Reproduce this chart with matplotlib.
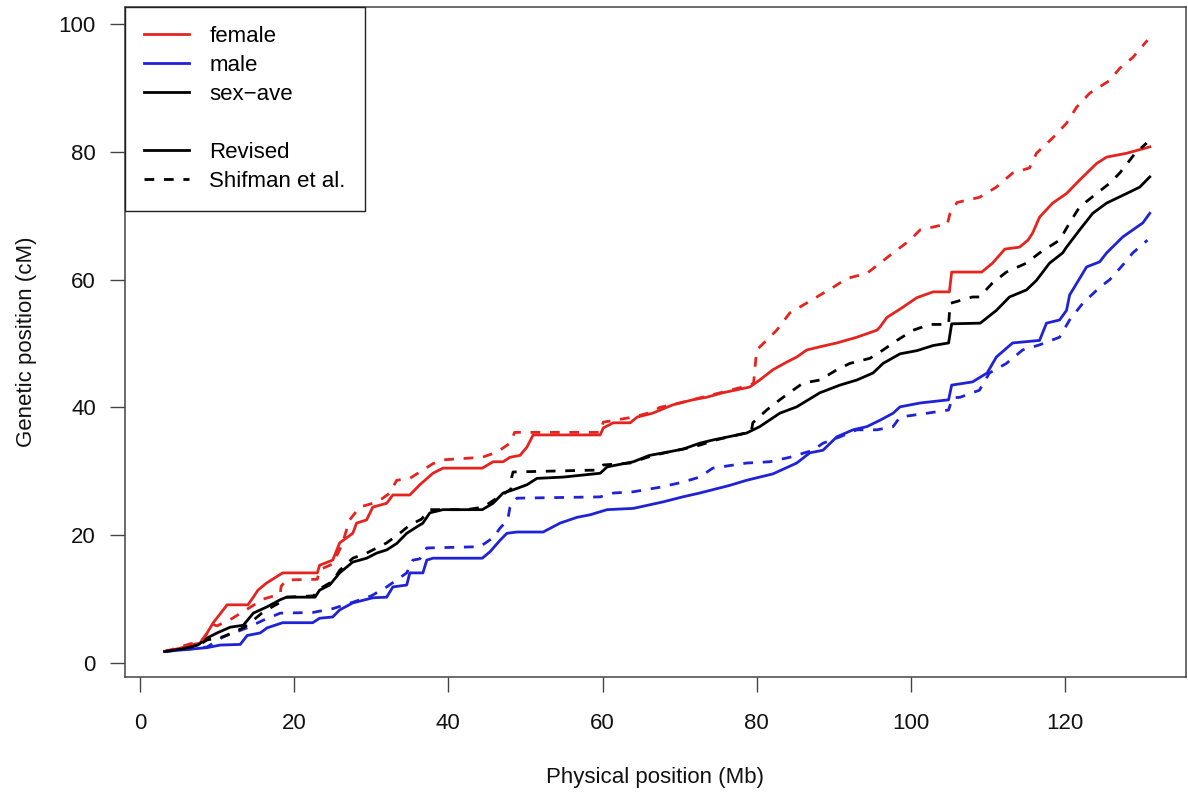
import matplotlib
matplotlib.use("Agg")
import matplotlib.pyplot as plt
from matplotlib.lines import Line2D

plt.rcParams['font.family'] = ['Liberation Sans', 'DejaVu Sans']

# ---------------- data (Mb, cM) ----------------
female_rev_x = [3.2, 5.2, 6.5, 7.8, 8.7, 9.5, 11.3, 14.0, 14.7, 15.3, 16.4, 18.5, 23.0, 23.3, 25.0, 25.9,
                27.6, 28.1, 29.4, 30.2, 32.0, 32.8, 35.0, 36.3, 38.0, 39.3, 44.4, 45.8, 47.1, 48.0, 49.3,
                50.2, 51.0, 59.7, 60.1, 61.4, 63.6, 64.5, 66.5, 69.1, 71.7, 73.5, 75.6, 79.1, 80.4, 82.1,
                83.9, 85.2, 86.5, 88.2, 90.4, 93.0, 95.6, 96.0, 96.9, 98.6, 100.8, 102.9, 105.0, 105.3,
                109.2, 110.6, 112.2, 114.1, 115.2, 115.8, 116.7, 118.4, 120.2, 121.9, 124.1, 125.4, 128.0, 131.0]
female_rev_y = [1.8, 2.3, 2.8, 3.1, 4.7, 6.3, 9.1, 9.1, 10.3, 11.4, 12.5, 14.1, 14.1, 15.3, 16.1, 18.8,
                20.3, 21.9, 22.4, 24.4, 25.0, 26.3, 26.3, 27.9, 29.7, 30.5, 30.5, 31.5, 31.5, 32.2, 32.5,
                33.8, 35.7, 35.7, 36.8, 37.6, 37.6, 38.5, 39.1, 40.4, 41.2, 41.6, 42.3, 43.2, 44.3, 45.9,
                47.1, 47.9, 49.0, 49.5, 50.1, 51.0, 52.1, 52.6, 54.1, 55.4, 57.2, 58.1, 58.1, 61.2,
                61.2, 62.6, 64.8, 65.1, 66.2, 67.3, 69.8, 72.0, 73.5, 75.6, 78.2, 79.2, 79.8, 80.8]

female_shif_x = [3.2, 5.0, 6.5, 7.8, 8.7, 9.5, 10.0, 12.0, 14.0, 16.0, 18.2, 18.3, 19.0, 23.0, 23.3, 25.0,
                 26.0, 26.5, 27.2, 28.5, 30.2, 31.5, 32.4, 33.3, 35.0, 36.7, 38.0, 39.3, 44.4, 46.3, 48.0,
                 48.6, 59.7, 60.1, 64.0, 66.5, 67.4, 70.0, 72.6, 75.6, 79.1, 79.6, 80.0, 81.7, 82.6, 84.3,
                 86.0, 87.8, 89.9, 91.7, 94.3, 96.0, 97.7, 99.9, 101.2, 103.8, 104.7, 105.1, 106.0, 108.9,
                 111.1, 113.2, 115.4, 116.3, 118.4, 120.2, 121.5, 123.2, 125.8, 127.1, 128.8, 130.7]
female_shif_y = [1.8, 2.4, 3.0, 3.2, 4.6, 6.0, 5.8, 7.0, 8.5, 10.0, 10.8, 12.0, 13.0, 13.1, 14.6, 15.5,
                 18.0, 19.7, 22.4, 24.4, 25.0, 25.8, 26.6, 28.6, 28.9, 30.2, 31.2, 31.8, 32.2, 33.0, 34.4,
                 36.1, 36.1, 37.7, 38.5, 39.3, 40.0, 40.7, 41.5, 42.4, 43.5, 43.8, 49.0, 51.0, 52.1, 54.8,
                 56.0, 57.3, 58.8, 60.2, 61.0, 62.6, 64.2, 66.2, 67.8, 68.5, 68.6, 70.4, 72.1, 72.9,
                 74.5, 76.7, 77.5, 79.8, 82.2, 84.5, 87.0, 89.2, 91.2, 93.1, 94.8, 97.5]

male_rev_x = [3.2, 6.0, 8.7, 10.4, 13.0, 13.9, 15.6, 16.5, 18.5, 22.4, 23.3, 25.0, 25.9, 27.6, 30.2, 32.0,
              32.8, 34.6, 35.0, 36.7, 37.2, 38.0, 44.4, 45.4, 46.7, 47.6, 48.9, 52.3, 54.5, 56.7, 58.4,
              60.6, 64.0, 67.8, 70.4, 72.6, 76.5, 78.7, 82.1, 85.2, 86.9, 88.6, 90.4, 92.5, 94.3, 96.0,
              97.7, 98.6, 101.2, 104.9, 105.3, 108.0, 109.9, 111.1, 113.2, 116.7, 117.6, 119.3, 120.2,
              120.6, 122.8, 124.5, 125.4, 127.5, 128.8, 130.1, 131.0]
male_rev_y = [1.8, 2.1, 2.4, 2.8, 2.9, 4.3, 4.7, 5.5, 6.3, 6.3, 7.0, 7.2, 8.3, 9.4, 10.2, 10.3,
              11.9, 12.2, 14.1, 14.1, 16.1, 16.4, 16.4, 17.4, 19.2, 20.3, 20.5, 20.5, 21.9, 22.8, 23.2,
              24.0, 24.2, 25.2, 26.0, 26.6, 27.8, 28.6, 29.6, 31.3, 32.9, 33.3, 35.4, 36.5, 37.0, 38.0,
              39.1, 40.1, 40.7, 41.2, 43.5, 44.0, 45.4, 47.9, 50.1, 50.5, 53.2, 53.7, 55.2,
              57.6, 62.0, 62.8, 64.2, 66.7, 67.8, 68.9, 70.4]

male_shif_x = [3.2, 6.0, 8.7, 10.8, 13.9, 16.0, 18.2, 22.4, 25.0, 27.6, 30.0, 32.0, 34.6, 35.4, 36.3, 37.2,
               44.1, 45.8, 46.7, 47.7, 48.0, 48.9, 59.7, 61.4, 64.0, 67.4, 70.4, 72.6, 74.3, 78.7, 81.7,
               84.3, 87.3, 88.6, 90.8, 93.0, 95.6, 97.7, 98.6, 102.1, 104.9, 105.4, 106.4, 108.9, 110.2,
               112.4, 114.5, 116.7, 119.3, 120.6, 122.3, 124.5, 125.8, 127.5, 128.8, 130.7]
male_shif_y = [1.8, 2.1, 2.5, 4.1, 5.5, 6.7, 7.8, 7.9, 8.5, 9.5, 10.5, 11.9, 14.1, 16.1, 16.3, 18.0,
               18.2, 19.6, 21.1, 22.4, 24.4, 25.8, 26.0, 26.6, 26.8, 27.5, 28.3, 29.1, 30.5, 31.3, 31.5,
               32.2, 33.3, 34.4, 35.4, 36.5, 36.5, 37.0, 38.5, 39.1, 39.6, 41.5, 41.6, 42.7, 45.4,
               46.9, 49.0, 49.8, 51.0, 53.7, 56.3, 58.8, 60.0, 62.3, 64.2, 66.2]

ave_rev_x = [3.2, 5.5, 7.5, 8.7, 10.0, 11.7, 13.4, 14.7, 16.5, 18.2, 19.0, 22.7, 23.3, 24.6, 25.9, 27.6,
             29.4, 30.7, 32.0, 33.3, 34.6, 35.9, 36.7, 37.6, 39.3, 44.4, 45.8, 47.1, 48.4, 50.2, 51.5,
             54.9, 59.7, 60.6, 64.0, 66.1, 68.4, 70.5, 72.6, 74.3, 78.7, 80.4, 83.0, 85.2, 88.2, 90.8,
             93.0, 95.1, 96.4, 98.6, 100.8, 102.9, 104.9, 105.3, 109.0, 111.1, 112.8, 115.0, 116.3,
             118.0, 119.7, 120.2, 121.9, 123.6, 125.4, 128.0, 129.7, 131.0]
ave_rev_y = [1.8, 2.2, 2.8, 3.9, 4.7, 5.6, 5.9, 7.8, 8.8, 9.9, 10.3, 10.3, 11.4, 12.2, 14.1, 15.8,
             16.4, 17.2, 17.7, 18.7, 20.3, 21.3, 21.9, 23.5, 24.0, 24.0, 25.0, 26.6, 27.1, 27.9, 28.9,
             29.1, 29.7, 30.7, 31.5, 32.5, 33.0, 33.5, 34.4, 34.9, 36.0, 37.0, 39.1, 40.1, 42.3, 43.5,
             44.3, 45.4, 46.9, 48.4, 48.9, 49.7, 50.1, 53.1, 53.2, 55.2, 57.3, 58.4, 59.9,
             62.6, 64.2, 65.1, 67.8, 70.4, 72.0, 73.5, 74.5, 76.1]

ave_shif_x = [3.2, 5.5, 7.5, 8.7, 10.8, 13.4, 14.5, 16.0, 18.2, 19.0, 22.5, 23.3, 25.0, 25.9, 27.6, 29.4,
              32.0, 33.7, 35.0, 36.5, 37.6, 42.4, 44.5, 46.3, 47.6, 48.1, 48.2, 48.4, 59.3, 60.1, 63.6,
              65.8, 68.4, 70.5, 72.6, 75.0, 79.3, 79.5, 81.3, 83.0, 84.7, 86.0, 88.2, 90.4, 92.1, 94.7,
              96.4, 98.2, 100.3, 102.5, 104.9, 105.1, 108.0, 108.9, 110.6, 112.4, 115.0, 116.7, 119.3,
              120.6, 121.9, 124.1, 125.8, 127.1, 128.4, 129.1, 130.6]
ave_shif_y = [1.8, 2.2, 2.7, 3.6, 4.1, 5.5, 6.5, 8.0, 9.5, 10.3, 10.5, 11.6, 12.8, 14.5, 16.4, 17.2,
              18.8, 20.3, 21.6, 22.5, 24.0, 24.0, 24.4, 25.8, 26.8, 27.2, 29.0, 29.9, 30.2, 31.0, 31.3,
              32.2, 33.0, 33.5, 34.1, 35.0, 36.2, 37.6, 39.6, 41.2, 42.7, 43.8, 44.3, 45.9, 46.9, 47.7,
              49.0, 50.5, 52.1, 53.0, 53.0, 56.3, 57.3, 57.3, 59.5, 61.2, 62.6, 64.2, 66.2,
              68.9, 71.4, 73.5, 75.1, 76.7, 78.7, 79.8, 81.4]

x_ticks = [0, 20, 40, 60, 80, 100, 120]
y_ticks = [0, 20, 40, 60, 80, 100]
legend_labels = ["female", "male", "sex\u2212ave", " ", "Revised", "Shifman et al."]

RED = "#e52420"
BLUE = "#1f22d6"
BLACK = "#000000"
LW = 2.0
DASH = (0, (3.5, 3.5))
FS = 16

fig = plt.figure(figsize=(11.88, 8.0), dpi=100)
ax = fig.add_axes([125 / 1188, 1 - 677 / 800, (1186 - 125) / 1188, (677 - 7) / 800])

ax.plot(female_rev_x, female_rev_y, color=RED, lw=LW)
ax.plot(male_rev_x, male_rev_y, color=BLUE, lw=LW)
ax.plot(ave_rev_x, ave_rev_y, color=BLACK, lw=LW)
ax.plot(female_shif_x, female_shif_y, color=RED, lw=LW, linestyle=DASH)
ax.plot(male_shif_x, male_shif_y, color=BLUE, lw=LW, linestyle=DASH)
ax.plot(ave_shif_x, ave_shif_y, color=BLACK, lw=LW, linestyle=DASH)

ax.set_xlim(-1.95, 135.7)
ax.set_ylim(-2.2, 102.7)
ax.set_xticks(x_ticks)
ax.set_yticks(y_ticks)
ax.tick_params(axis='both', direction='out', length=11, width=1.0, color='#444444',
               labelsize=FS, labelcolor='#111111')
ax.tick_params(axis='x', pad=15)
ax.tick_params(axis='y', pad=10)
for s in ax.spines.values():
    s.set_color('#444444')
    s.set_linewidth(1.1)

ax.set_xlabel("Physical position (Mb)", fontsize=FS, color='#111111', va='center')
ax.xaxis.set_label_coords(0.5, (677 - 778) / 670)
ax.set_ylabel("Genetic position (cM)", fontsize=FS, color='#111111', va='center')
ax.yaxis.set_label_coords((26 - 125) / 1061, 0.5)

handles = [Line2D([], [], color=RED, lw=LW),
           Line2D([], [], color=BLUE, lw=LW),
           Line2D([], [], color=BLACK, lw=LW),
           Line2D([], [], color='none', lw=0),
           Line2D([], [], color=BLACK, lw=LW),
           Line2D([], [], color=BLACK, lw=LW, linestyle=DASH)]
leg = ax.legend(handles, legend_labels, loc='upper left', borderaxespad=0, fontsize=FS,
                frameon=True, fancybox=False, edgecolor='#222222', framealpha=1,
                handlelength=2.05, handletextpad=0.9, borderpad=0.85, labelspacing=0.36)
leg.get_frame().set_linewidth(1.0)

fig.savefig("out.png", dpi=100, facecolor='white')
